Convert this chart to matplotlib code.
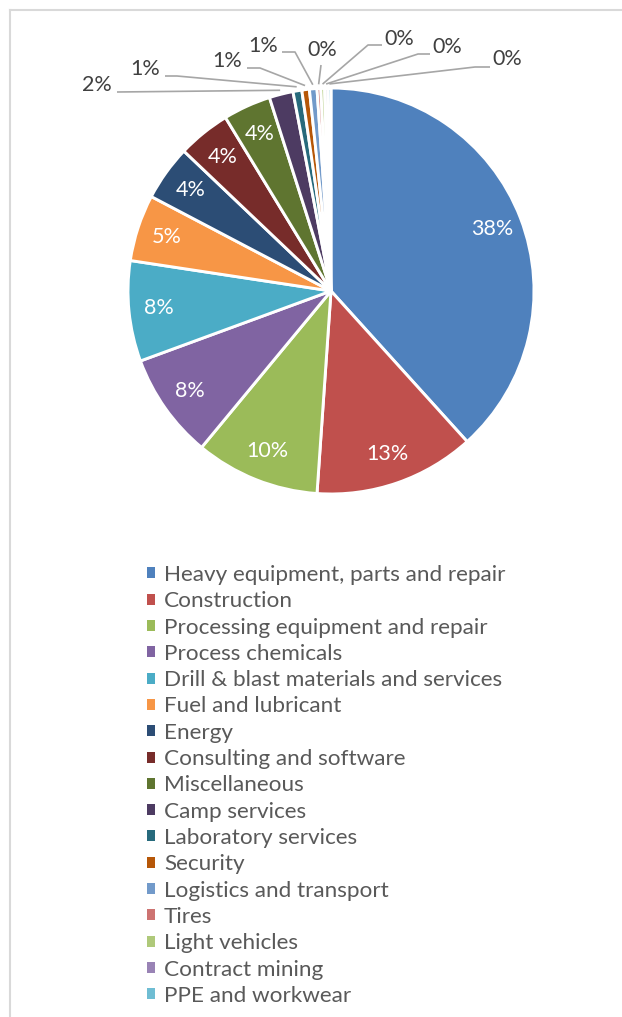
import numpy as np
import matplotlib.pyplot as plt
from matplotlib.lines import Line2D
from matplotlib.patches import Patch

plt.rcParams['font.family'] = ['Lato', 'DejaVu Sans']

categories = ["Heavy equipment, parts and repair", "Construction",
              "Processing equipment and repair", "Process chemicals",
              "Drill & blast materials and services", "Fuel and lubricant",
              "Energy", "Consulting and software", "Miscellaneous",
              "Camp services", "Laboratory services", "Security",
              "Logistics and transport", "Tires", "Light vehicles",
              "Contract mining", "PPE and workwear"]
shares = [38.3, 12.8, 9.9, 8.4, 8.0, 5.3, 4.4, 4.2, 3.8,
          1.9, 0.7, 0.6, 0.6, 0.3, 0.3, 0.25, 0.25]
colors = ["#4F81BD", "#C0504D", "#9BBB59", "#8064A2", "#4BACC6", "#F79646",
          "#2C4D75", "#772C2A", "#5F7530", "#4D3B62", "#276A7C", "#B65708",
          "#729ACA", "#CD7371", "#AFC97A", "#9983B5", "#6FBDD3"]

W, H = 622, 1017
CX, CY, R = 331, 291, 203


def px(x, y):
    # pixel position -> data units (pie radius = 1)
    return (x - CX) / R, (CY - y) / R


fig = plt.figure(figsize=(W / 100, H / 100), dpi=100)
ax = fig.add_axes([0, 0, 1, 1])
ax.axis("off")

wedges, _ = ax.pie(shares, colors=colors, startangle=90, counterclock=False,
                   wedgeprops=dict(edgecolor="white", linewidth=2.1))
ax.set_xlim(px(0, 0)[0], px(W, 0)[0])
ax.set_ylim(px(0, H)[1], px(0, 0)[1])

total = sum(shares)
pcts = [f"{round(v / total * 100):.0f}%" for v in shares]

# inside labels for the big slices
n_inside = 9
for w, p in zip(wedges[:n_inside], pcts[:n_inside]):
    mid = np.deg2rad((w.theta1 + w.theta2) / 2)
    ax.text(0.85 * np.cos(mid), 0.85 * np.sin(mid), p, color="white",
            fontsize=15.5, ha="center", va="center")

# outer labels: text centre, leader start, elbow x (pixels)
outer = [((97, 85), (117, 92), None),
         ((145, 69), (165, 76), 177),
         ((227, 61), (247, 68), 260),
         ((263, 46), (282, 52), 295),
         ((322, 50), (321, 65), None),
         ((399, 39), (382, 45), 368),
         ((447, 47), (430, 54), 418),
         ((507, 59), (490, 67), 475)]
for w, p, (tpos, start, elbow) in zip(wedges[n_inside:], pcts[n_inside:], outer):
    mid = np.deg2rad((w.theta1 + w.theta2) / 2)
    ex, ey = 1.02 * np.cos(mid), 1.02 * np.sin(mid)
    xs, ys = px(*start)
    pts_x, pts_y = [xs], [ys]
    if elbow is not None:
        pts_x.append(px(elbow, 0)[0])
        pts_y.append(ys)
    pts_x.append(ex)
    pts_y.append(ey)
    ax.plot(pts_x, pts_y, color="#A6A6A6", lw=1.2, solid_capstyle="butt")
    tx, ty = px(*tpos)
    ax.text(tx, ty, p, color="#404040", fontsize=15.5, ha="center", va="center")

handles = [Patch(facecolor=c, edgecolor="none") for c in colors]
ax.legend(handles, categories, loc="upper left",
          bbox_to_anchor=(147 / W, 1 - 565 / H), bbox_transform=fig.transFigure,
          frameon=False, fontsize=16.2, labelcolor="#595959",
          handlelength=0.37, handleheight=0.37, handletextpad=0.38,
          labelspacing=0.28, borderpad=0, borderaxespad=0)

# chart area border (left and top)
border = dict(color="#D9D9D9", lw=1.5, transform=fig.transFigure)
fig.add_artist(Line2D([10 / W, 10 / W], [0, 1 - 10 / H], **border))
fig.add_artist(Line2D([10 / W, 1], [1 - 10 / H, 1 - 10 / H], **border))

fig.savefig("out.png", dpi=100)
